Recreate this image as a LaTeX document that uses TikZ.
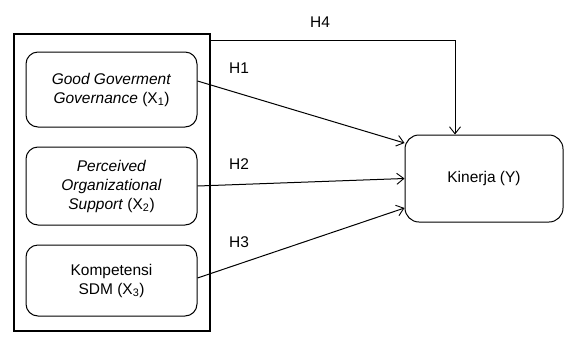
\documentclass[tikz,border=0pt]{standalone}
\usepackage{fontspec}
\setmainfont{Liberation Sans}
\usetikzlibrary{arrows.meta}
\begin{document}
\begin{tikzpicture}[x=1pt,y=-1pt,
  every node/.style={font=\fontsize{15.5}{19}\selectfont},
  varbox/.style={draw,line width=1pt,rounded corners=12pt,align=center,inner sep=0pt,minimum width=171pt},
  outerbox/.style={draw,line width=1.1pt,inner sep=0pt,minimum width=196pt,minimum height=297pt},
  ybox/.style={draw,line width=1pt,rounded corners=14pt,align=center,inner sep=0pt,minimum width=158pt,minimum height=87pt},
  conn/.style={line width=1pt,-{Straight Barb[length=7pt,width=11pt,line width=0.9pt]}},
  hlabel/.style={inner sep=0pt}]
\useasboundingbox (0,0) rectangle (565,338);
\node[outerbox] (outer) at (112,182.5) {};
\node[varbox,minimum height=75pt] (g1) at (111.5,89.5) {\textit{Good Goverment}\\\textit{Governance} (X\textsubscript{1})};
\node[varbox,minimum height=78pt] (g2) at (111.5,186) {\textit{Perceived}\\\textit{Organizational}\\\textit{Support} (X\textsubscript{2})};
\node[varbox,minimum height=71pt] (g3) at (111.5,280.5) {Kompetensi\\SDM (X\textsubscript{3})};
\node[ybox] (ky) at (484,178.5) {Kinerja (Y)};
\draw[conn] ([yshift=8.5pt]g1.east) -- ([yshift=35.5pt]ky.west);
\draw[conn] (g2.east) -- (ky.west);
\draw[conn] ([yshift=2.5pt]g3.east) -- ([yshift=-29.5pt]ky.west);
\draw[conn] ([yshift=-7pt]outer.north east) -| ([xshift=-29pt]ky.north);
\node[hlabel] (h4) at (320,22) {H4};
\node[hlabel] (h1) at (239,68) {H1};
\node[hlabel] (h2) at (239,164) {H2};
\node[hlabel] (h3) at (239,242) {H3};
\end{tikzpicture}
\end{document}
